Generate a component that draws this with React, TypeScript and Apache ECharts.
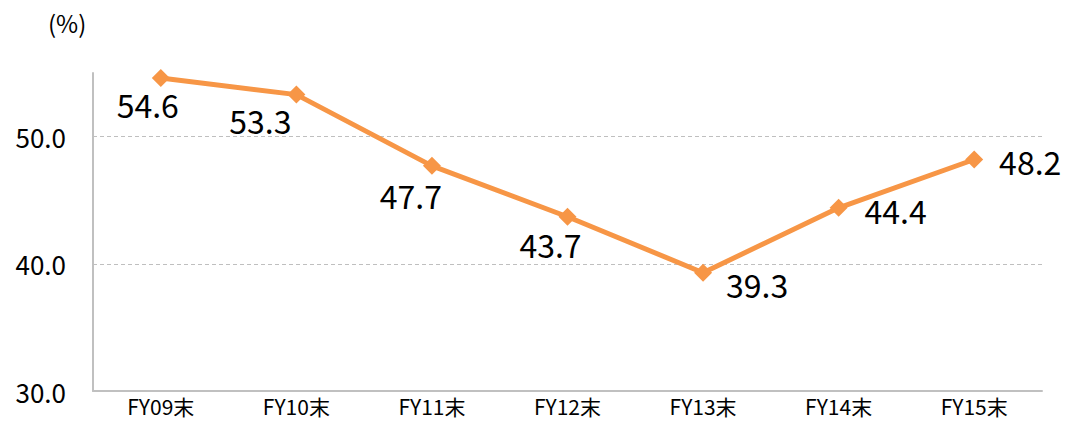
import React, { useEffect, useRef } from "react";
import * as echarts from "echarts";

const categories = ["FY09末", "FY10末", "FY11末", "FY12末", "FY13末", "FY14末", "FY15末"];
const ratioValues = [54.6, 53.3, 47.7, 43.7, 39.3, 44.4, 48.2];
const labelOffsets: [number, number][] = [
  [-13, 26],
  [-36, 25],
  [-21, 29],
  [-17, 27],
  [54, 11],
  [57, 2],
  [56, 2],
];
const unitLabel = "(%)";

const FONT = "'Noto Sans CJK JP', 'Noto Sans', sans-serif";

export default function App() {
  const ref = useRef<HTMLDivElement>(null);
  useEffect(() => {
    if (!ref.current) return;
    const chart = echarts.init(ref.current, null, { renderer: "svg" });
    chart.setOption({
      animation: false,
      backgroundColor: "#ffffff",
      textStyle: { fontFamily: FONT },
      graphic: [
        {
          type: "text",
          left: 48,
          top: 10,
          style: { text: unitLabel, font: `24px ${FONT}`, fill: "#000" },
        },
      ],
      grid: { left: 93, right: 24, top: 73, bottom: 31, containLabel: false },
      xAxis: {
        type: "category",
        data: categories,
        boundaryGap: true,
        axisLine: { show: true, lineStyle: { color: "#c0c0c0", width: 2 } },
        axisTick: { show: false },
        axisLabel: {
          color: "#000",
          fontSize: 21,
          lineHeight: 20,
          fontFamily: FONT,
          margin: 5,
        },
      },
      yAxis: {
        type: "value",
        min: 30,
        max: 55,
        interval: 10,
        axisLine: { show: true, lineStyle: { color: "#c0c0c0", width: 2 } },
        axisTick: { show: false },
        axisLabel: {
          color: "#000",
          fontSize: 26,
          fontFamily: FONT,
          margin: 27,
          formatter: (v: number) => (v === 55 ? "" : v.toFixed(1)),
        },
        splitLine: {
          show: true,
          showMaxLine: false,
          lineStyle: { color: "#bfbfbf", type: [4, 3], width: 1 },
        },
      },
      series: [
        {
          type: "line",
          data: ratioValues.map((v, i) => ({
            value: v,
            label: { offset: labelOffsets[i] },
          })),
          symbol: "diamond",
          symbolSize: 18,
          lineStyle: { color: "#F79646", width: 5 },
          itemStyle: { color: "#F79646" },
          label: {
            show: true,
            position: "inside",
            color: "#000",
            fontSize: 32,
            fontFamily: FONT,
            formatter: (p: any) => Number(p.value).toFixed(1),
          },
        },
      ],
    });
    return () => chart.dispose();
  }, []);
  return (
    <div
      ref={ref}
      style={{ position: "fixed", left: 0, top: 0, width: 1066, height: 422 }}
    />
  );
}
